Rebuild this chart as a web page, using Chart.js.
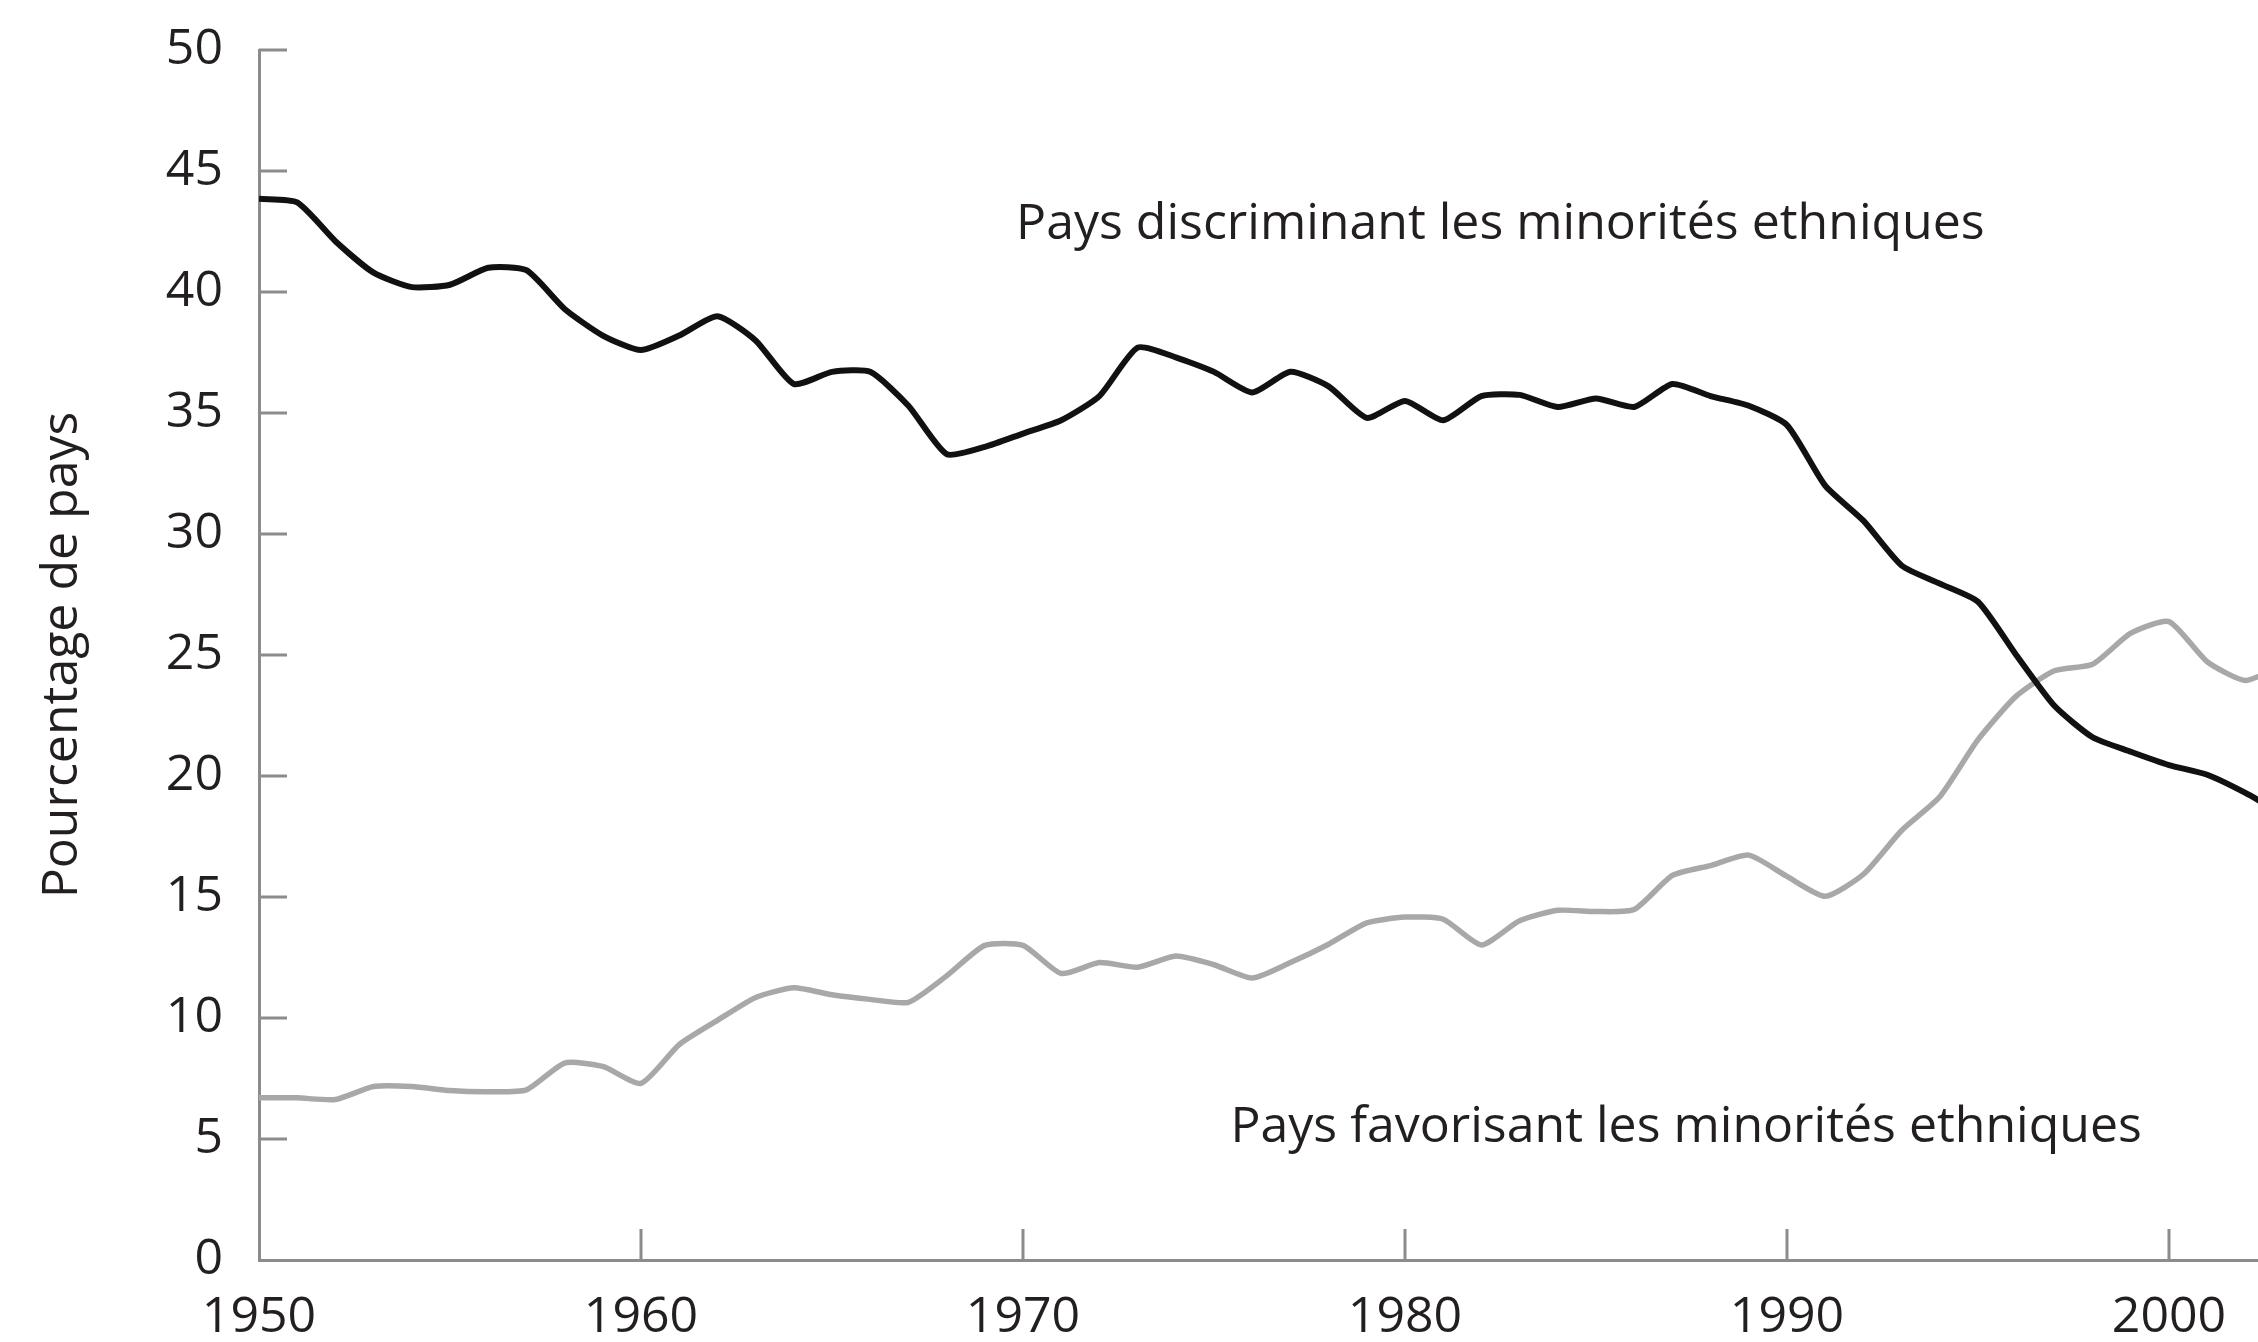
<!DOCTYPE html>
<html>
<head>
<meta charset="utf-8">
<script src="https://cdn.jsdelivr.net/npm/chart.js@4.4.1/dist/chart.umd.min.js"></script>
<style>
  html, body { margin: 0; padding: 0; background: #ffffff; }
  #wrap { width: 2258px; height: 1342px; position: relative; }
</style>
</head>
<body>
<div id="wrap"><canvas id="c" width="2258" height="1342"></canvas></div>
<script>
const years = [1950,1951,1952,1953,1954,1955,1956,1957,1958,1959,
  1960,1961,1962,1963,1964,1965,1966,1967,1968,1969,
  1970,1971,1972,1973,1974,1975,1976,1977,1978,1979,
  1980,1981,1982,1983,1984,1985,1986,1987,1988,1989,
  1990,1991,1992,1993,1994,1995,1996,1997,1998,1999,
  2000,2001,2002,2003];

const discriminant = [43.85,43.7,42.1,40.8,40.2,40.3,41.0,40.9,39.3,38.2,
  37.6,38.2,39.0,38.0,36.2,36.7,36.7,35.3,33.3,33.6,
  34.15,34.7,35.7,37.7,37.3,36.7,35.85,36.7,36.1,34.8,
  35.5,34.7,35.7,35.75,35.25,35.6,35.25,36.2,35.7,35.3,
  34.5,32.0,30.55,28.7,27.95,27.2,25.0,22.9,21.6,21.0,
  20.45,20.05,19.3,18.4];

const favorisant = [6.7,6.7,6.63,7.17,7.17,7.0,6.95,7.03,8.14,8.0,
  7.3,8.9,9.9,10.85,11.25,10.96,10.77,10.65,11.74,13.0,
  13.0,11.84,12.29,12.1,12.56,12.2,11.65,12.29,13.05,13.93,
  14.17,14.08,13.02,14.02,14.45,14.4,14.48,15.89,16.3,16.73,
  15.85,15.03,15.94,17.75,19.14,21.5,23.3,24.35,24.62,25.9,
  26.38,24.72,23.95,24.6];

const xTicks = [1950,1960,1970,1980,1990,2000];
const yTicks = [0,5,10,15,20,25,30,35,40,45,50];

const seriesLabels = ['Pays discriminant les minorités ethniques', 'Pays favorisant les minorités ethniques'];
const yTitle = 'Pourcentage de pays';

const FONT = "'Open Sans', 'Noto Sans', sans-serif";
const TEXT_COLOR = '#231f20';
const AXIS_COLOR = '#8c8c8c';

const annotations = [
  { text: seriesLabels[0], x: 1969.82, y: 42.18 },
  { text: seriesLabels[1], x: 1975.43, y: 4.89 }
];

const tickMarks = {
  id: 'tickMarks',
  afterDraw(chart) {
    const ctx = chart.ctx;
    const xs = chart.scales.x, ys = chart.scales.y;
    ctx.save();
    ctx.strokeStyle = AXIS_COLOR;
    ctx.lineWidth = 3;
    ctx.beginPath();
    xTicks.forEach(v => {
      if (v === xs.min) return;
      const px = xs.getPixelForValue(v);
      ctx.moveTo(px, ys.bottom);
      ctx.lineTo(px, ys.bottom - 31);
    });
    yTicks.forEach(v => {
      if (v === ys.min) return;
      const py = ys.getPixelForValue(v);
      ctx.moveTo(xs.left, py);
      ctx.lineTo(xs.left + 28, py);
    });
    ctx.stroke();
    ctx.restore();
  }
};

const textLabels = {
  id: 'textLabels',
  afterDraw(chart) {
    const ctx = chart.ctx;
    const xs = chart.scales.x, ys = chart.scales.y;
    ctx.save();
    ctx.font = "50px " + FONT;
    ctx.fillStyle = TEXT_COLOR;
    ctx.textAlign = 'left';
    ctx.textBaseline = 'alphabetic';
    annotations.forEach(a => {
      ctx.fillText(a.text, xs.getPixelForValue(a.x), ys.getPixelForValue(a.y));
    });
    ctx.restore();
  }
};

new Chart(document.getElementById('c'), {
  type: 'line',
  data: {
    datasets: [
      {
        label: seriesLabels[0],
        data: years.map((y, i) => ({ x: y, y: discriminant[i] })),
        borderColor: '#111111',
        borderWidth: 6,
        pointRadius: 0,
        tension: 0.2,
        fill: false
      },
      {
        label: seriesLabels[1],
        data: years.map((y, i) => ({ x: y, y: favorisant[i] })),
        borderColor: '#a8a8a8',
        borderWidth: 5.5,
        pointRadius: 0,
        tension: 0.2,
        fill: false
      }
    ]
  },
  options: {
    responsive: false,
    animation: false,
    devicePixelRatio: 1,
    layout: { padding: { top: 50, left: 0, right: 0, bottom: 0 } },
    plugins: { legend: { display: false }, tooltip: { enabled: false } },
    scales: {
      x: {
        type: 'linear',
        min: 1950,
        max: 2002.33,
        afterBuildTicks: s => { s.ticks = xTicks.map(v => ({ value: v })); },
        afterFit: s => { s.height = 82; s.paddingLeft = 0; s.paddingRight = 0; },
        grid: { display: false, drawTicks: false },
        border: { display: true, color: AXIS_COLOR, width: 3 },
        ticks: {
          padding: 28,
          maxRotation: 0,
          autoSkip: false,
          color: TEXT_COLOR,
          font: { family: FONT, size: 50 },
          callback: v => String(v)
        }
      },
      y: {
        type: 'linear',
        min: 0,
        max: 50,
        afterBuildTicks: s => { s.ticks = yTicks.map(v => ({ value: v })); },
        afterFit: s => { s.width = 259; s.paddingTop = 0; s.paddingBottom = 0; },
        grid: { display: false, drawTicks: false },
        border: { display: true, color: AXIS_COLOR, width: 3 },
        title: {
          display: true,
          text: yTitle,
          color: TEXT_COLOR,
          font: { family: FONT, size: 50 },
          padding: { top: 33, bottom: 0 }
        },
        ticks: {
          padding: 36,
          color: TEXT_COLOR,
          font: { family: FONT, size: 50 },
          callback: v => String(v)
        }
      }
    }
  },
  plugins: [tickMarks, textLabels]
});
</script>
</body>
</html>
